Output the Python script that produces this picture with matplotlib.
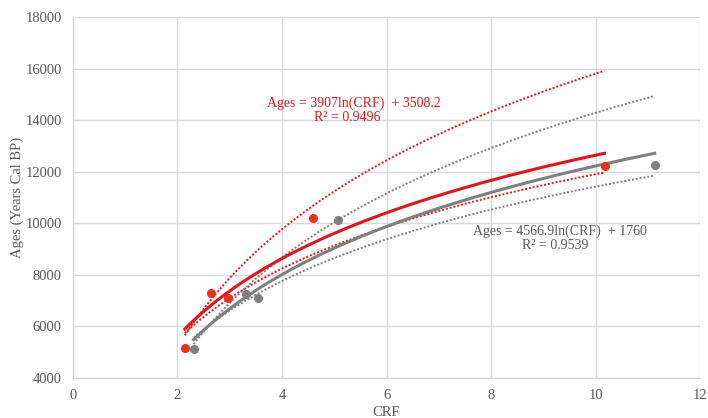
import matplotlib.pyplot as plt
import numpy as np

# dados (CRF x idade)
crf_red = [2.14, 2.64, 2.97, 4.60, 10.17]
ages_red = [5170, 7300, 7100, 10200, 12230]
ages_red_up = [5650, 7030, 7810, 10690, 15920]
ages_red_low = [5740, 6580, 7060, 8800, 11970]

crf_gray = [2.31, 3.31, 3.55, 5.07, 11.13]
ages_gray = [5130, 7260, 7110, 10130, 12270]
ages_gray_up = [5650, 7280, 7700, 10150, 15050]
ages_gray_low = [5550, 7010, 7270, 8730, 11840]

xticks = [0, 2, 4, 6, 8, 10, 12]
yticks = [4000, 6000, 8000, 10000, 12000, 14000, 16000, 18000]

red = '#e3141b'
red_pt = '#e8321e'
gray = '#7f7f7f'
txt_gray = '#595959'

plt.rcParams['font.family'] = ['Liberation Serif', 'DejaVu Serif']


# ajuste logaritmico (como a linha de tendencia do excel)
def log_fit(x, y):
    b, a = np.polyfit(np.log(x), y, 1)
    xs = np.linspace(min(x), max(x), 200)
    return xs, a + b * np.log(xs)


fig = plt.figure(figsize=(7.08, 4.18), dpi=100)
ax = fig.add_axes([0.103, 0.096, 0.886, 0.863])

for x, y, up, low, c in [(crf_red, ages_red, ages_red_up, ages_red_low, red),
                         (crf_gray, ages_gray, ages_gray_up, ages_gray_low, gray)]:
    xs, ys = log_fit(x, up)
    ax.plot(xs, ys, color=c, lw=1.4, ls=(0, (1, 1)), zorder=2)
    xs, ys = log_fit(x, low)
    ax.plot(xs, ys, color=c, lw=1.4, ls=(0, (1, 1)), zorder=2)

xs, ys = log_fit(crf_gray, ages_gray)
ax.plot(xs, ys, color=gray, lw=2.2, zorder=3)
xs, ys = log_fit(crf_red, ages_red)
ax.plot(xs, ys, color=red, lw=2.2, zorder=3)

ax.plot(crf_gray, ages_gray, 'o', color=gray, ms=5.5, zorder=4)
ax.plot(crf_red, ages_red, 'o', color=red_pt, ms=5.5, zorder=4)

ax.text(3.71, 14670, 'Ages = 3907ln(CRF)  + 3508.2', color=red, fontsize=10, va='center')
ax.text(5.24, 14090, 'R\u00b2 = 0.9496', color=red, fontsize=10, va='center', ha='center')
ax.text(7.65, 9700, 'Ages = 4566.9ln(CRF)  + 1760', color=txt_gray, fontsize=10, va='center')
ax.text(9.22, 9120, 'R\u00b2 = 0.9539', color=txt_gray, fontsize=10, va='center', ha='center')

ax.set_xlim(0, 12)
ax.set_ylim(4000, 18000)
ax.set_xticks(xticks)
ax.set_yticks(yticks)
ax.grid(True, color='#d9d9d9', lw=1)
ax.set_axisbelow(True)
for s in ['top', 'right']:
    ax.spines[s].set_visible(False)
for s in ['left', 'bottom']:
    ax.spines[s].set_color('#d0d0d0')
ax.tick_params(length=0, colors=txt_gray, labelsize=10.5, pad=8)
ax.set_xlabel('CRF', color=txt_gray, fontsize=10.5, labelpad=3)
ax.set_ylabel('Ages (Years Cal BP)', color=txt_gray, fontsize=10.5, labelpad=1)

fig.savefig('out.png', dpi=100)
